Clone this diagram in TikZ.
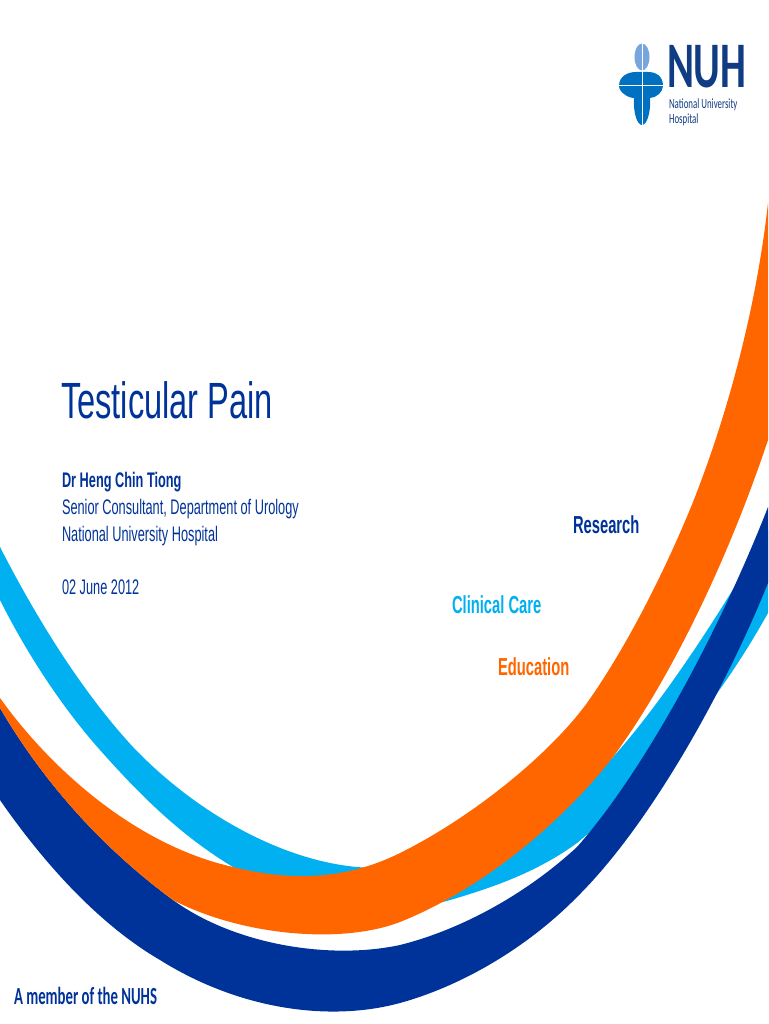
\documentclass[tikz,border=0pt]{standalone}
\usepackage{xcolor}
\usepackage{fontspec}
\setmainfont{Liberation Sans}
\newfontfamily\titlefont{Liberation Sans}[FakeStretch=0.64]
\newfontfamily\smallfont{Liberation Sans}[FakeStretch=0.605]
\newfontfamily\pillarfont{Liberation Sans}[FakeStretch=0.6]
\newfontfamily\logofont{Carlito}[FakeStretch=0.63]
\newfontfamily\memberfont{Carlito}[FakeStretch=0.6]
\definecolor{nuhnavy}{RGB}{0,51,153}
\definecolor{nuhorange}{RGB}{255,102,0}
\definecolor{nuhsky}{RGB}{0,176,240}
\definecolor{nuhpale}{RGB}{120,165,220}
\definecolor{nuhmid}{RGB}{0,112,192}
\definecolor{nuhink}{RGB}{15,60,130}
\tikzset{txt/.style={anchor=base west,inner sep=0pt,outer sep=0pt,text=nuhnavy},
  small/.style={txt,font=\smallfont\fontsize{12}{14}\selectfont},
  heading/.style={txt,font=\smallfont\fontsize{12}{14}\selectfont\bfseries},
  pillar/.style={txt,font=\pillarfont\fontsize{14}{16}\selectfont\bfseries},
  logotxt/.style={txt,text=nuhink,font=\logofont\fontsize{8}{9}\selectfont}}

\begin{document}
\begin{tikzpicture}[x=0.02cm,y=-0.02cm]
      \useasboundingbox (0,0) rectangle (768,1024);
      \fill[white] (0,0) rectangle (768,1024);
      % bands
      \fill[nuhsky] (0,547) .. controls (40,625) and (85,695) .. (133,747)
        .. controls (195,812) and (280,860) .. (357,867)
        .. controls (450,875) and (540,835) .. (613,757)
        .. controls (660,705) and (720,615) .. (768,530)
        -- (768,613) .. controls (725,690) and (665,770) .. (577,843)
        .. controls (540,870) and (500,885) .. (457,898)
        .. controls (380,922) and (300,905) .. (233,867)
        .. controls (180,835) and (140,795) .. (100,750)
        .. controls (60,705) and (25,650) .. (0,600) -- cycle;
      \fill[nuhnavy] (0,708) .. controls (45,785) and (105,850) .. (173,900)
        .. controls (235,945) and (330,960) .. (400,945)
        .. controls (460,930) and (525,895) .. (577,847)
        .. controls (645,770) and (720,630) .. (768,507)
        -- (768,583) .. controls (725,690) and (650,825) .. (577,897)
        .. controls (530,945) and (465,985) .. (400,1003)
        .. controls (330,1022) and (240,1010) .. (160,960)
        .. controls (100,925) and (45,865) .. (0,800) -- cycle;
      \fill[nuhorange] (0,698) .. controls (50,768) and (135,845) .. (233,867)
        .. controls (285,880) and (342,882) .. (400,853)
        .. controls (465,821) and (545,760) .. (587,703)
        .. controls (628,645) and (665,570) .. (691,507)
        .. controls (722,430) and (755,320) .. (768,203)
        -- (768,440) .. controls (728,560) and (670,680) .. (613,757)
        .. controls (560,825) and (480,890) .. (400,922)
        .. controls (340,945) and (240,935) .. (173,900)
        .. controls (105,850) and (45,785) .. (0,708) -- cycle;
      % logo
      \fill[nuhpale] (642,57) ellipse (7.5 and 13.5);
      \fill[nuhmid] (619,86) .. controls (619,76) and (628,72) .. (636,72) -- (648,72) .. controls (656,72) and (663,76) .. (663,86)
        .. controls (663,92) and (656,98) .. (650,98) .. controls (651,112) and (647,125) .. (642,125) .. controls (637,125) and (633,112) .. (634,98) .. controls (628,98) and (619,92) .. (619,86) -- cycle;
      \draw[white,line width=0.5pt] (642,43) -- (642,125);
      \draw[white,line width=0.5pt] (619,85) -- (663,85);
      \node[txt,text=nuhink,text depth=0pt,font=\logofont\bfseries\fontsize{37}{37}\selectfont] (nuh) at (667,88) {NUH};
      \node[logotxt,text height=6pt] (nuhname) at (669,109) {National University};
      \node[logotxt,text height=6pt] (nuhhosp) at (669,124) {Hospital};
      % text
      \node[txt,font=\titlefont\fontsize{29}{32}\selectfont] (title) at (61,418) {Testicular Pain};
      \node[heading] (author) at (62,487) {Dr Heng Chin Tiong};
      \node[small] (role) at (62,514) {Senior Consultant, Department of Urology};
      \node[small] (place) at (62,541) {National University Hospital};
      \node[small] (date) at (62,594) {02 June 2012};
      \node[pillar] (research) at (573,533) {Research};
      \node[pillar,text=nuhsky] (care) at (452,613) {Clinical Care};
      \node[pillar,text=nuhorange] (education) at (498,675) {Education};
      \node[txt,font=\memberfont\bfseries\fontsize{14}{16}\selectfont] (member) at (14,1004) {A member of the NUHS};
\end{tikzpicture}
\end{document}
